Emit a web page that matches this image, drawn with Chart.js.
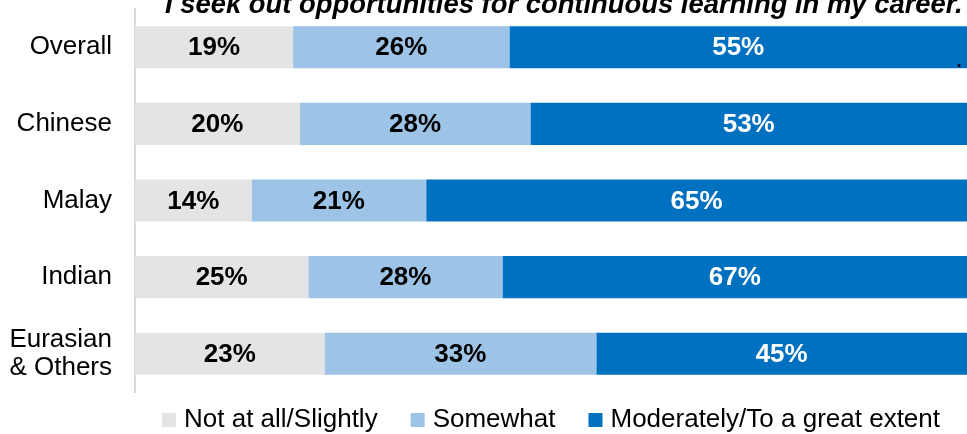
<!DOCTYPE html>
<html lang="en">
<head>
  <meta charset="UTF-8" />
  <title>Continuous learning by ethnic group</title>
  <script src="https://cdn.jsdelivr.net/npm/chart.js@4.4.0/dist/chart.umd.min.js"></script>
  <style>
    html, body { margin: 0; padding: 0; background: #fff; }
    .wrap { position: relative; width: 967px; height: 434px; overflow: hidden; }
  </style>
</head>
<body>
<div class="wrap">
  <canvas id="learnChart"></canvas>
</div>

<script>
const FONT = "'Liberation Sans', Arial, sans-serif";

const groups = ['Overall', 'Chinese', 'Malay', 'Indian', ['Eurasian', '& Others']];
const seriesNames = ['Not at all/Slightly', 'Somewhat', 'Moderately/To a great extent'];
const notAtAll = [19, 20, 14, 25, 23];
const somewhat = [26, 28, 21, 28, 33];
const greatExtent = [55, 53, 65, 67, 45];
const colours = ['#e4e4e4', '#9dc3e6', '#0070c0'];
const labelColours = ['#000', '#000', '#fff'];
const question = 'I seek out opportunities for continuous learning in my career.';

// each row is drawn as 100% of its own total
const raw = [notAtAll, somewhat, greatExtent];
const rowTotals = groups.map((_, i) => raw.reduce((s, arr) => s + arr[i], 0));
const toShare = arr => arr.map((v, i) => v / rowTotals[i] * 100);

// percentage text in the middle of each visible segment
const segmentLabels = {
  id: 'segmentLabels',
  afterDatasetsDraw(chart) {
    const { ctx, chartArea } = chart;
    ctx.save();
    ctx.font = `bold 26px ${FONT}`;
    ctx.textAlign = 'center';
    ctx.textBaseline = 'middle';
    chart.data.datasets.forEach((ds, d) => {
      chart.getDatasetMeta(d).data.forEach((bar, i) => {
        const left = Math.max(bar.base, chartArea.left);
        const right = Math.min(bar.x, chartArea.right);
        ctx.fillStyle = labelColours[d];
        ctx.fillText(ds.values[i] + '%', (left + right) / 2, bar.y + 1);
      });
    });
    ctx.restore();
  }
};

// question heading across the top, plus the stray full stop on the first bar
const heading = {
  id: 'heading',
  afterDraw(chart) {
    const ctx = chart.ctx;
    ctx.save();
    ctx.fillStyle = '#000';
    ctx.textAlign = 'left';
    ctx.textBaseline = 'alphabetic';
    ctx.font = `italic bold 27.4px ${FONT}`;
    ctx.fillText(question, 165, 13);
    ctx.font = `26px ${FONT}`;
    ctx.fillText('.', 955.5, 67);
    ctx.restore();
  }
};

// square-marker legend centred under the plot
const squareLegend = {
  id: 'squareLegend',
  afterDraw(chart) {
    const { ctx, chartArea } = chart;
    const box = 14, gapText = 8, gapItem = 33, baseline = 427;
    ctx.save();
    ctx.font = `26px ${FONT}`;
    ctx.textBaseline = 'alphabetic';
    ctx.textAlign = 'left';
    const widths = chart.data.datasets.map(ds => box + gapText + ctx.measureText(ds.label).width);
    const total = widths.reduce((a, b) => a + b, 0) + gapItem * (widths.length - 1);
    let x = (chartArea.left + chartArea.right) / 2 - total / 2;
    chart.data.datasets.forEach((ds, d) => {
      ctx.fillStyle = ds.backgroundColor;
      ctx.fillRect(x, baseline - box, box, box);
      ctx.fillStyle = '#000';
      ctx.fillText(ds.label, x + box + gapText, baseline);
      x += widths[d] + gapItem;
    });
    ctx.restore();
  }
};

new Chart(document.getElementById('learnChart').getContext('2d'), {
  type: 'bar',
  data: {
    labels: groups,
    datasets: raw.map((arr, d) => ({
      label: seriesNames[d],
      data: toShare(arr),
      values: arr,
      backgroundColor: colours[d],
      borderWidth: 0,
      categoryPercentage: 1,
      barPercentage: 0.55
    }))
  },
  options: {
    indexAxis: 'y',
    responsive: true,
    maintainAspectRatio: false,
    animation: false,
    layout: { padding: { top: 9, left: 9, right: 0, bottom: 42 } },
    plugins: {
      legend: { display: false },
      tooltip: { enabled: false }
    },
    scales: {
      x: { stacked: true, min: 0, max: 100, display: false },
      y: {
        stacked: true,
        grid: { display: false, drawTicks: false },
        border: { display: true, color: '#d9d9d9', width: 2 },
        ticks: {
          color: '#000',
          padding: 23,
          font: { family: FONT, size: 26, lineHeight: 1.1 }
        },
        afterFit(scale) {
          // fixed label column; labels sit at the band centres so no overflow room needed
          scale.width = 126;
          scale.paddingTop = 0;
          scale.paddingBottom = 0;
        }
      }
    }
  },
  plugins: [segmentLabels, heading, squareLegend]
});
</script>
</body>
</html>
